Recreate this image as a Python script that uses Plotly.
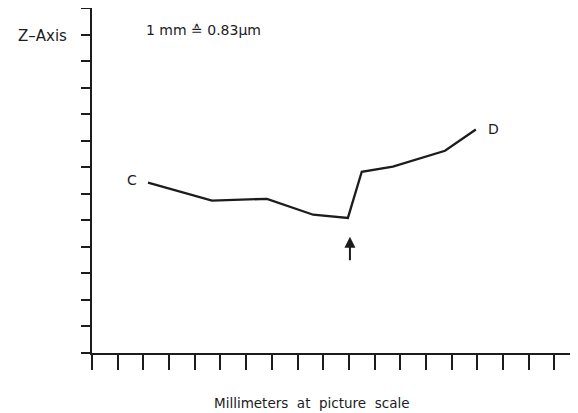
import plotly.graph_objects as go

# Data (x in millimetre tick units, z in tick units)
x_mm = [2.18, 4.67, 6.81, 8.61, 9.96, 10.5, 11.71, 13.74, 14.94]
z_val = [6.42, 5.74, 5.81, 5.21, 5.09, 6.83, 7.02, 7.62, 8.42]
x_ticks = list(range(0, 19))
z_ticks = list(range(0, 14))
ink = "#1c1c1c"
font = "DejaVu Sans, Liberation Sans, sans-serif"

# page has an 8px body margin; figure origin is at page (8, 8)
W, H = 570, 405
L, R, T, B = 84, 3, 0, 60
PW, PH = W - L - R, H - T - B


def px(xp):  # page x -> paper x
    return (xp - 8 - L) / PW


def py(yp):  # page y -> paper y
    return 1 - (yp - 8 - T) / PH


fig = go.Figure()
fig.add_trace(go.Scatter(x=x_mm, y=z_val, mode="lines",
                         line=dict(color=ink, width=2.3), hoverinfo="skip"))

fig.update_layout(
    width=W, height=H,
    margin=dict(l=L, r=R, t=T, b=B),
    plot_bgcolor="white", paper_bgcolor="white",
    showlegend=False,
    xaxis=dict(range=[0, 18.8], tickvals=x_ticks, showticklabels=False,
               ticks="outside", ticklen=15, tickwidth=2, tickcolor=ink,
               showline=True, linecolor=ink, linewidth=2,
               showgrid=False, zeroline=False),
    yaxis=dict(range=[0, 13], tickvals=z_ticks, showticklabels=False,
               ticks="outside", ticklen=9, tickwidth=2, tickcolor=ink,
               showline=True, linecolor=ink, linewidth=2,
               showgrid=False, zeroline=False),
)

fig.add_annotation(x=x_mm[0], y=z_val[0], text="C", showarrow=False,
                   xanchor="right", xshift=-9, yshift=3,
                   font=dict(family=font, size=14, color=ink))
fig.add_annotation(x=x_mm[-1], y=z_val[-1], text="D", showarrow=False,
                   xanchor="left", xshift=10, yshift=1,
                   font=dict(family=font, size=14, color=ink))
fig.add_annotation(x=10.04, y=4.38, text="", showarrow=True,
                   ax=0, ay=25, arrowhead=2, arrowsize=1.1, arrowwidth=2,
                   arrowcolor=ink)
fig.add_annotation(xref="paper", yref="paper", x=px(42), y=py(36),
                   text="Z\u2013Axis", showarrow=False, xanchor="center",
                   yanchor="middle",
                   font=dict(family=font, size=15, color=ink))
fig.add_annotation(xref="paper", yref="paper", x=px(144), y=py(30),
                   text="1 mm \u2259 0.83\u00b5m", showarrow=False,
                   xanchor="left", yanchor="middle",
                   font=dict(family=font, size=14, color=ink))
fig.add_annotation(xref="paper", yref="paper", x=px(312), y=py(403),
                   text="Millimeters  at  picture  scale", showarrow=False,
                   xanchor="center", yanchor="middle",
                   font=dict(family=font, size=13.5, color=ink))

fig.write_html("out.html")
